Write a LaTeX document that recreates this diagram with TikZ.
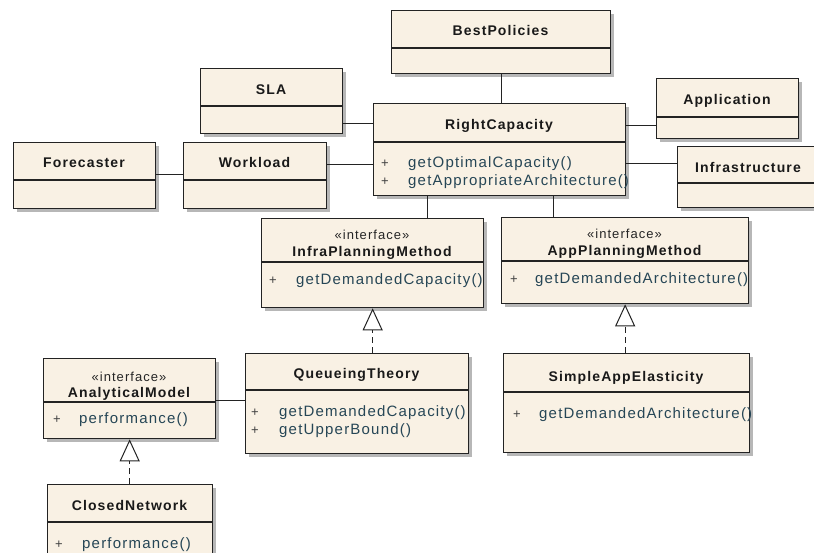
\documentclass[tikz,border=0pt]{standalone}
\usepackage{fontspec}
\newfontfamily\umlfont[LetterSpace=8]{Liberation Sans}
\usetikzlibrary{arrows.meta,shadows}

\definecolor{classfill}{RGB}{249,241,228}
\definecolor{classline}{RGB}{35,35,35}
\definecolor{methodcol}{RGB}{38,70,86}

% class box: name, x1, y1, x2, y2, y of the divider
\newcommand{\umlclass}[6]{%
  \node[classbox, minimum width={#4-#2}, minimum height={#5-#3}] (#1) at (#2,#3) {};
  \draw[classline, line width=1.3pt] (#2,#6) -- (#4,#6);
}

\begin{document}
\begin{tikzpicture}[x=1pt, y=-1pt,
  classbox/.style={draw=classline, fill=classfill, line width=1.3pt, inner sep=0pt,
    anchor=north west,
    drop shadow={shadow xshift=3pt, shadow yshift=-3pt, opacity=0.4, fill=black!70}},
  classname/.style={font=\umlfont\fontsize{14}{16}\selectfont\bfseries, text=black!90, inner sep=0pt, anchor=mid, yshift=-3pt},
  stereo/.style={font=\umlfont\fontsize{13}{15}\selectfont, text=black!85, inner sep=0pt, anchor=mid, yshift=-3pt},
  plus/.style={font=\umlfont\fontsize{13}{15}\selectfont, text=black!75, inner sep=0pt, anchor=mid, yshift=-3pt},
  method/.style={font=\umlfont\fontsize{15}{17}\selectfont, text=methodcol, inner sep=0pt, anchor=mid west, yshift=-3pt},
  assoc/.style={draw=classline, line width=1pt},
  realize/.style={draw=classline, line width=1pt, dash pattern=on 6pt off 4pt,
    -{Triangle[open, length=22pt, width=20pt]}}]
  \useasboundingbox[fill=white] (0,0) rectangle (814,553);

  % top row
  \umlclass{bp}{391}{10}{610}{73}{48}
  \node[classname] (bpname) at (500.5,30) {BestPolicies};
  \umlclass{sla}{200}{68}{342}{133}{106}
  \node[classname] (slaname) at (271,89) {SLA};
  \umlclass{app}{656}{78}{798}{138}{117}
  \node[classname] (appname) at (727,99) {Application};

  % core class
  \umlclass{rc}{373}{103}{625}{195}{142}
  \node[classname] (rcname) at (499,124) {RightCapacity};
  \foreach \y/\lab [count=\i] in {162/getOptimalCapacity(), 180/getAppropriateArchitecture()}{
    \node[plus] (rcplus\i) at (385,\y) {+};
    \node[method] (rcop\i) at (408,\y) {\lab};
  }

  % second row
  \umlclass{fc}{13}{142}{155}{208}{180}
  \node[classname] (fcname) at (84,162) {Forecaster};
  \umlclass{wl}{183}{142}{326}{208}{180}
  \node[classname] (wlname) at (254.5,162) {Workload};
  \umlclass{inf}{677}{146}{822}{207}{183}
  \node[classname] (infname) at (748,167) {Infrastructure};

  % planning interfaces
  \umlclass{ipm}{261}{218}{483}{307}{262}
  \node[stereo] (ipmst) at (372,234.5) {«interface»};
  \node[classname] (ipmname) at (372,251.5) {InfraPlanningMethod};
  \node[plus] (ipmplus) at (273,279) {+};
  \node[method] (ipmop) at (296,279) {getDemandedCapacity()};
  \umlclass{apm}{501}{217}{748}{303}{261}
  \node[stereo] (apmst) at (624.5,233) {«interface»};
  \node[classname] (apmname) at (624.5,250.5) {AppPlanningMethod};
  \node[plus] (apmplus) at (514,278) {+};
  \node[method] (apmop) at (535,278) {getDemandedArchitecture()};

  % implementations
  \umlclass{am}{43}{358}{215}{438}{402}
  \node[stereo] (amst) at (129,376) {«interface»};
  \node[classname] (amname) at (129,392.5) {AnalyticalModel};
  \node[plus] (amplus) at (57,418) {+};
  \node[method] (amop) at (79,418) {performance()};
  \umlclass{qt}{245}{353}{468}{453}{390}
  \node[classname] (qtname) at (356.5,373) {QueueingTheory};
  \foreach \y/\lab [count=\i] in {411/getDemandedCapacity(), 429/getUpperBound()}{
    \node[plus] (qtplus\i) at (255,\y) {+};
    \node[method] (qtop\i) at (279,\y) {\lab};
  }
  \umlclass{sae}{503}{353}{749}{452}{392}
  \node[classname] (saename) at (626,376) {SimpleAppElasticity};
  \node[plus] (saeplus) at (517,413) {+};
  \node[method] (saeop) at (539,413) {getDemandedArchitecture()};
  \umlclass{cn}{47}{484}{212}{572}{522}
  \node[classname] (cnname) at (129.5,505) {ClosedNetwork};
  \node[plus] (cnplus) at (59,543) {+};
  \node[method] (cnop) at (82,543) {performance()};

  % associations
  \draw[assoc] (bp.south) -- (bp.south |- rc.north);
  \draw[assoc] (sla.east |- 0,124) -- (rc.west |- 0,124);
  \draw[assoc] (wl.east |- 0,165) -- (rc.west |- 0,165);
  \draw[assoc] (fc.east |- 0,175) -- (wl.west |- 0,175);
  \draw[assoc] (rc.east |- 0,126) -- (app.west |- 0,126);
  \draw[assoc] (rc.east |- 0,164) -- (inf.west |- 0,164);
  \draw[assoc] (427,0 |- rc.south) -- (427,0 |- ipm.north);
  \draw[assoc] (553,0 |- rc.south) -- (553,0 |- apm.north);
  \draw[assoc] (am.east |- 0,400) -- (qt.west |- 0,400);

  % realizations
  \draw[realize] (ipm.south |- qt.north) -- (ipm.south);
  \draw[realize] (apm.south |- sae.north) -- (apm.south);
  \draw[realize] (am.south |- cn.north) -- (am.south);
\end{tikzpicture}
\end{document}
